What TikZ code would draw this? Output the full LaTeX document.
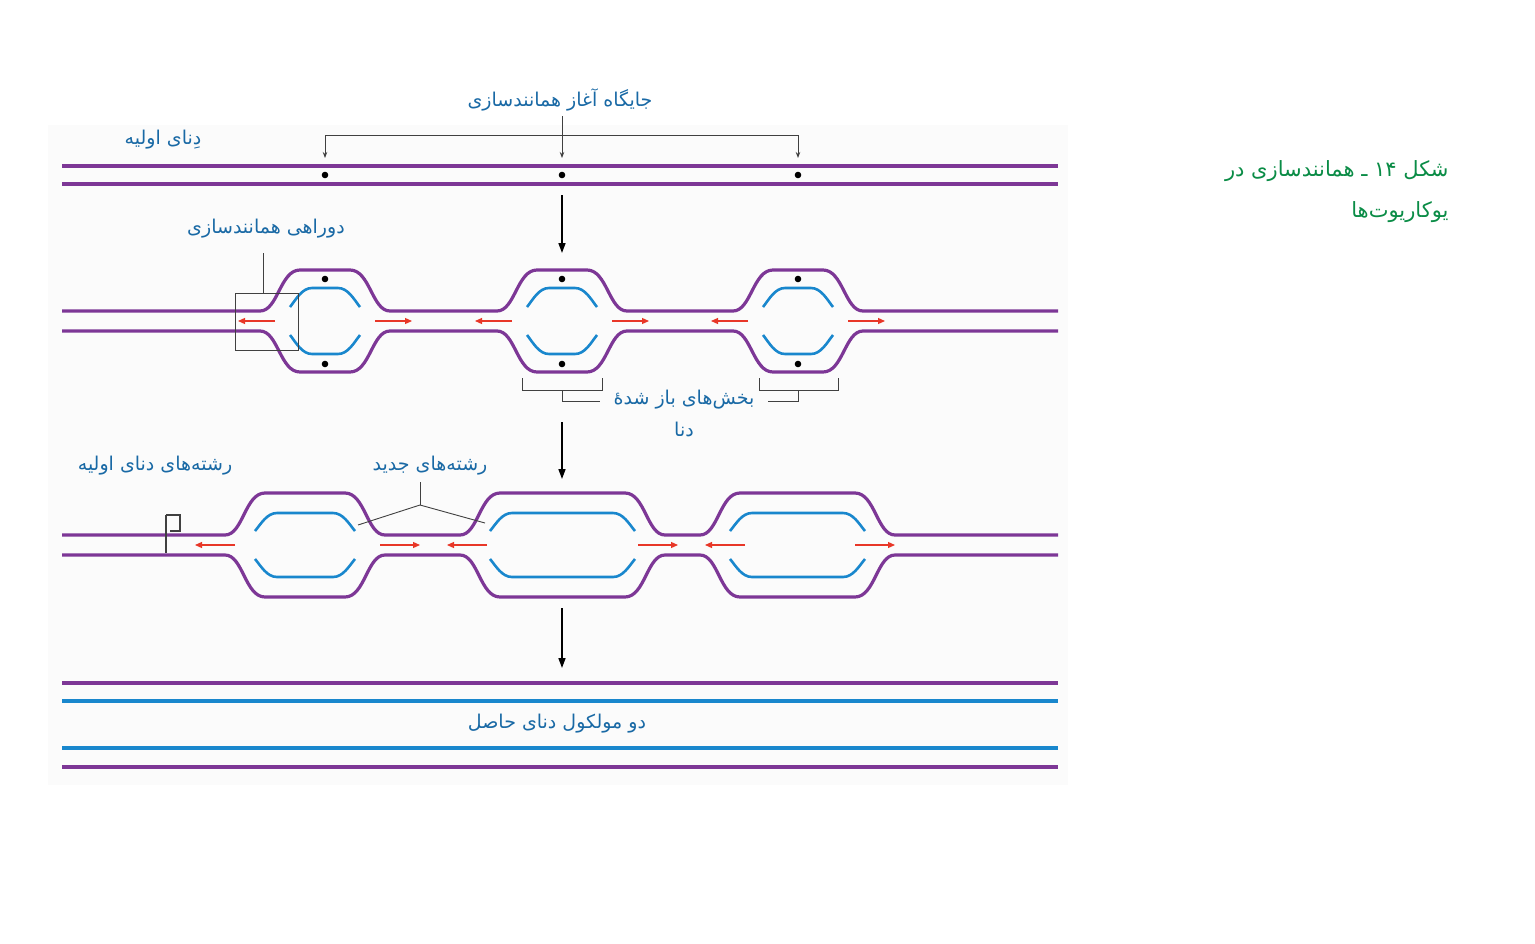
\documentclass[tikz,border=0pt]{standalone}
\usepackage{fontspec}
\newfontfamily\arabicfont[Script=Arabic]{DejaVu Sans}
\TeXXeTstate=1
\newcommand\fa[1]{{\arabicfont\beginR #1\endR}}
\definecolor{dpurple}{RGB}{125,55,150}
\definecolor{dblue}{RGB}{25,135,205}
\definecolor{lblue}{RGB}{25,105,165}
\definecolor{dred}{RGB}{232,55,40}
\definecolor{dgreen}{RGB}{10,140,70}
\usetikzlibrary{arrows.meta}
\begin{document}
\begin{tikzpicture}[x=1pt,y=-1pt,
  pl/.style={dpurple,line width=3.2pt},
  bl/.style={dblue,line width=3.2pt},
  ib/.style={dblue,line width=2.6pt},
  lab/.style={lblue,font=\fontsize{19}{22}\selectfont,inner sep=1pt},
  ra/.style={dred,line width=1.2pt,-{Triangle[length=7pt,width=6pt]}},
  da/.style={black,line width=1.6pt,-{Triangle[length=10pt,width=7pt]}},
  thin/.style={black!75,line width=0.9pt},
  ob/.style n args={4}{insert path={-- ({#1-40},#3) .. controls ({#1-22},#3) and ({#1-20},{#3+#4}) .. (#1,{#3+#4}) -- (#2,{#3+#4}) .. controls ({#2+20},{#3+#4}) and ({#2+22},#3) .. ({#2+40},#3)}},
  ibs/.style n args={4}{insert path={({#1-10},{#3}) .. controls ({#1-4},{#3+0.4*#4}) and ({#1+2},{#3+#4}) .. ({#1+12},{#3+#4}) -- ({#2-12},{#3+#4}) .. controls ({#2-2},{#3+#4}) and ({#2+4},{#3+0.4*#4}) .. ({#2+10},{#3})}},
]
\useasboundingbox (0,0) rectangle (1535,943);
\fill[black!1.5] (48,125) rectangle (1068,785);
% ---------- row 1
\draw[pl] (62,166) -- (1058,166);
\draw[pl] (62,184) -- (1058,184);
\foreach \x/\n in {325/a,562/b,798/c}{\fill (\x,175) circle (3.3pt); \coordinate (o\n) at (\x,158); \coordinate (t\n) at (\x,135);}
\draw[thin] (ta) -- (tc);
\foreach \n in {a,b,c}{\draw[thin,-{Stealth[length=6pt]}] (t\n) -- (o\n);}
\node[lab] (l1) at (560,100) {\fa{جایگاه آغاز همانندسازی}};
\draw[thin] (tb) -- (562,116);
\node[lab] (l2) at (163,140) {\fa{دِنای اولیه}};
\coordinate (a1s) at (562,195); \coordinate (a1e) at (562,253);
\draw[da] (a1s) -- (a1e);
% ---------- row 2
\draw[pl] (62,311) [ob={300}{350}{311}{-41}] [ob={537}{587}{311}{-41}] [ob={773}{823}{311}{-41}] -- (1058,311);
\draw[pl] (62,331) [ob={300}{350}{331}{41}] [ob={537}{587}{331}{41}] [ob={773}{823}{331}{41}] -- (1058,331);
\foreach \xl/\xr in {300/350,537/587,773/823}{
  \draw[ib] [ibs={\xl}{\xr}{307}{-19}];
  \draw[ib] [ibs={\xl}{\xr}{335}{19}];
  \fill ({(\xl+\xr)/2},279) circle (3.3pt);
  \fill ({(\xl+\xr)/2},364) circle (3.3pt);
  \draw[ra] ({\xl-25},321) -- ({\xl-62},321);
  \draw[ra] ({\xr+25},321) -- ({\xr+62},321);
}
\draw[thin] (235,293) rectangle (298,350);
\node[lab] (l3) at (266,229) {\fa{دوراهی همانندسازی}};
\draw[thin] (263,293) -- (263,253);
\draw[thin] (522,378) -- (522,390) -- (602,390) -- (602,378);
\draw[thin] (562,390) -- (562,401) -- (600,401);
\draw[thin] (759,378) -- (759,390) -- (838,390) -- (838,378);
\draw[thin] (798,390) -- (798,401) -- (768,401);
\node[lab] (l4) at (684,400) {\fa{بخش‌های باز شدهٔ}};
\node[lab] (l5) at (684,429) {\fa{دنا}};
\draw[da] (562,422) -- (562,479);
% ---------- row 3
\draw[pl] (62,535) [ob={265}{345}{535}{-42}] [ob={500}{625}{535}{-42}] [ob={740}{855}{535}{-42}] -- (1058,535);
\draw[pl] (62,555) [ob={265}{345}{555}{42}] [ob={500}{625}{555}{42}] [ob={740}{855}{555}{42}] -- (1058,555);
\foreach \xl/\xr in {265/345,500/625,740/855}{
  \draw[ib] [ibs={\xl}{\xr}{531}{-18}];
  \draw[ib] [ibs={\xl}{\xr}{559}{18}];
}
\draw[ra] (235,545) -- (195,545);
\draw[ra] (380,545) -- (420,545);
\draw[ra] (487,545) -- (447,545);
\draw[ra] (638,545) -- (678,545);
\draw[ra] (745,545) -- (705,545);
\draw[ra] (855,545) -- (895,545);
\node[lab] (l6) at (155,466) {\fa{رشته‌های دنای اولیه}};
\draw[thin,line width=1.2pt] (166,515) -- (166,553);
\draw[thin,line width=1.2pt] (166,515) -- (180,515) -- (180,531) -- (170,531);
\node[lab] (l7) at (430,466) {\fa{رشته‌های جدید}};
\coordinate (j) at (420,505);
\draw[thin] (420,482) -- (j);
\draw[thin] (j) -- (358,525);
\draw[thin] (j) -- (485,523);
\draw[da] (562,608) -- (562,668);
% ---------- row 4
\draw[pl] (62,683) -- (1058,683);
\draw[bl,line width=4pt] (62,701) -- (1058,701);
\draw[bl,line width=4pt] (62,748) -- (1058,748);
\draw[pl] (62,767) -- (1058,767);
\node[lab] (l8) at (557,724) {\fa{دو مولکول دنای حاصل}};
% caption
\node[dgreen,font=\fontsize{21}{24}\selectfont,anchor=east] (c1) at (1452,171) {\fa{شکل ۱۴ ـ همانندسازی در}};
\node[dgreen,font=\fontsize{21}{24}\selectfont,anchor=east] (c2) at (1452,212) {\fa{یوکاریوت‌ها}};
\end{tikzpicture}
\end{document}
